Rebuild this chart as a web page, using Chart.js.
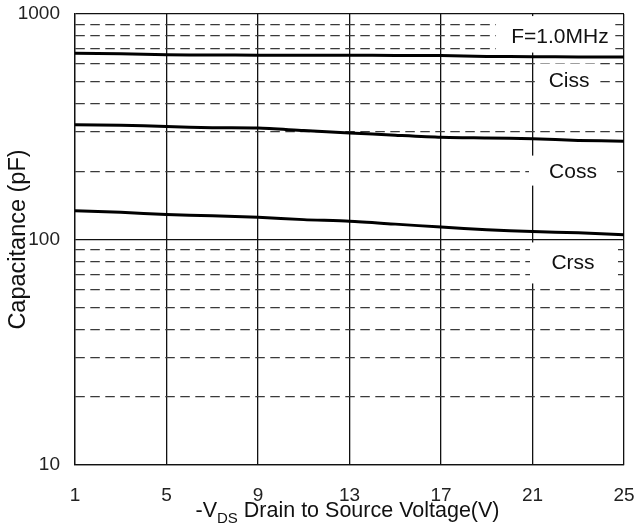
<!DOCTYPE html>
<html lang="en">
<head>
<meta charset="UTF-8">
<title>Capacitance vs Drain to Source Voltage</title>
<script src="https://cdn.jsdelivr.net/npm/chart.js"></script>
<style>
    body { margin: 0; background: #fff; }
    #wrap { width: 636px; height: 528px; }
</style>
</head>
<body>
<div id="wrap"><canvas id="capChart" width="636" height="528"></canvas></div>
<script>
// values (pF), -VDS in volts
const vds  = [1, 3, 5, 7, 9, 11, 13, 15, 17, 19, 21, 23, 25];
const ciss = [670, 667, 660, 658, 657, 657, 656, 655, 654, 648, 647, 645, 644];
const coss = [323, 321, 317, 313, 312, 304, 297, 290, 284, 282, 280, 275, 273];
const crss = [134, 132, 129, 127.5, 125.5, 122.5, 120.5, 117, 113.5, 110.5, 108.5, 107, 105];
const curveNames = ['Ciss', 'Coss', 'Crss'];

const xTicks = [1, 5, 9, 13, 17, 21, 25];
const yTicks = [10, 20, 30, 40, 50, 60, 70, 80, 90, 100, 200, 300, 400, 500, 600, 700, 800, 900, 1000];
const yMajor = [10, 100, 1000];

// text notes on the plot: anchor in data units, white box as pixel offsets
const notes = [
    { text: 'F=1.0MHz', x: 22.2,  y: 786, box: [-64, -21.5, 55, 15] },
    { text: 'Ciss',     x: 22.6,  y: 502, box: [-33, -18, 31, 17] },
    { text: 'Coss',     x: 22.77, y: 198, box: [-44, -17, 44, 13] },
    { text: 'Crss',     x: 22.77, y: 78.3, box: [-43, -21, 45, 20] }
];

const FONT = '"Liberation Sans", Arial, sans-serif';

const notePlugin = {
    id: 'notes',
    beforeDatasetsDraw(chart) {
        const { ctx, scales } = chart;
        ctx.save();
        ctx.fillStyle = '#fff';
        notes.forEach(n => {
            const px = scales.x.getPixelForValue(n.x);
            const py = scales.y.getPixelForValue(n.y);
            const [l, t, r, b] = n.box;
            ctx.fillRect(px + l, py + t, r - l, b - t);
        });
        ctx.restore();
    },
    afterDatasetsDraw(chart) {
        const { ctx, scales } = chart;
        ctx.save();
        ctx.fillStyle = '#111';
        ctx.font = '21px ' + FONT;
        ctx.textAlign = 'center';
        ctx.textBaseline = 'middle';
        notes.forEach(n => {
            ctx.fillText(n.text, scales.x.getPixelForValue(n.x), scales.y.getPixelForValue(n.y));
        });
        ctx.restore();
    },
    afterDraw(chart) {
        // x axis title with subscript
        const { ctx, chartArea } = chart;
        const parts = [
            { t: '-V', size: 21.5, dy: 0 },
            { t: 'DS', size: 15, dy: 6 },
            { t: ' Drain to Source Voltage(V)', size: 21.5, dy: 0 }
        ];
        ctx.save();
        ctx.fillStyle = '#111';
        ctx.textBaseline = 'alphabetic';
        let total = 0;
        parts.forEach(p => { ctx.font = p.size + 'px ' + FONT; p.w = ctx.measureText(p.t).width; total += p.w; });
        let x = (chartArea.left + chartArea.right) / 2 - total / 2 - 2;
        const base = 517;
        parts.forEach(p => {
            ctx.font = p.size + 'px ' + FONT;
            ctx.fillText(p.t, x, base + p.dy);
            x += p.w;
        });
        ctx.restore();
    }
};

const isMajor = v => yMajor.includes(v);

new Chart(document.getElementById('capChart'), {
    type: 'line',
    data: {
        labels: vds,
        datasets: [ciss, coss, crss].map((vals, k) => ({
            label: curveNames[k],
            data: vds.map((v, i) => ({ x: v, y: vals[i] })),
            borderColor: '#000',
            borderWidth: 3,
            pointRadius: 0,
            tension: 0.25,
            fill: false
        }))
    },
    options: {
        responsive: false,
        animation: false,
        layout: { padding: { left: 0, top: 14, right: 12, bottom: 0 } },
        plugins: { legend: { display: false }, tooltip: { enabled: false } },
        scales: {
            x: {
                type: 'linear',
                min: 1,
                max: 25,
                afterBuildTicks: s => { s.ticks = xTicks.map(v => ({ value: v })); },
                afterFit: s => { s.height = 63; s.paddingLeft = 0; s.paddingRight = 0; },
                ticks: {
                    color: '#222',
                    padding: 19,
                    maxRotation: 0,
                    font: { family: FONT, size: 19 }
                },
                grid: { color: '#111', lineWidth: 1.3, drawTicks: false },
                border: { color: '#111', width: 1.3 }
            },
            y: {
                type: 'logarithmic',
                min: 10,
                max: 1000,
                afterBuildTicks: s => { s.ticks = yTicks.map(v => ({ value: v, major: isMajor(v) })); },
                afterFit: s => { s.width = 75; s.paddingTop = 0; s.paddingBottom = 0; },
                ticks: {
                    color: '#222',
                    padding: 15,
                    autoSkip: false,
                    font: { family: FONT, size: 19 },
                    callback: v => isMajor(v) ? String(v) : ''
                },
                grid: {
                    drawTicks: false,
                    color: ctx => (ctx.tick && !isMajor(ctx.tick.value)) ? '#3a3a3a' : '#111',
                    lineWidth: ctx => (ctx.tick && !isMajor(ctx.tick.value)) ? 1.3 : 1.3
                },
                border: {
                    color: '#111',
                    width: 1.3,
                    dash: ctx => (ctx.tick && !isMajor(ctx.tick.value)) ? [9.5, 5.5] : []
                },
                title: {
                    display: true,
                    text: 'Capacitance (pF)',
                    color: '#111',
                    padding: { top: 4, bottom: 0 },
                    font: { family: FONT, size: 23.5 }
                }
            }
        }
    },
    plugins: [notePlugin]
});
</script>
</body>
</html>
